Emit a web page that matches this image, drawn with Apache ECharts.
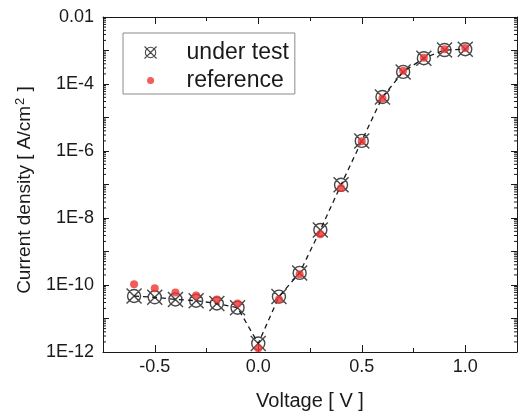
<!DOCTYPE html>
<html>
<head>
<meta charset="utf-8">
<script src="https://cdn.jsdelivr.net/npm/echarts@6/dist/echarts.min.js"></script>
<style>
  html, body { margin: 0; padding: 0; background: #fff; }
  #chart { width: 519px; height: 412px; }
</style>
</head>
<body>
<div id="chart"></div>
<script>
// bias voltage [V]
const voltage = [-0.6, -0.5, -0.4, -0.3, -0.2, -0.1, 0.0, 0.1, 0.2, 0.3, 0.4, 0.5, 0.6, 0.7, 0.8, 0.9, 1.0];
// current density [A/cm2]
const underTest = [4.7e-11, 4.3e-11, 3.7e-11, 3.4e-11, 2.8e-11, 2.1e-11, 1.8e-12, 4.5e-11, 2.3e-10, 4.4e-9, 9.8e-8, 2.0e-6, 4.1e-5, 2.3e-4, 5.9e-4, 1.03e-3, 1.09e-3];
const reference = [1.05e-10, 8.0e-11, 6.0e-11, 4.9e-11, 3.7e-11, 2.8e-11, 1.3e-12, 3.7e-11, 2.1e-10, 3.3e-9, 7.9e-8, 1.95e-6, 3.7e-5, 2.5e-4, 6.1e-4, 1.09e-3, 1.18e-3];

// axis labels
const yTickLabels = { '-12': '1E-12', '-10': '1E-10', '-8': '1E-8', '-6': '1E-6', '-4': '1E-4', '-2': '0.01' };
const X_MIN = -0.75, X_MAX = 1.25;
const Y_MIN = 1e-12, Y_MAX = 1e-2;

const FONT = 'Liberation Sans, Arial, sans-serif';
const INK = '#1a1a1a';

// ⊗ marker : circle + cross
const crossCircle = 'path://M0 0L15 15M15 0L0 15M14 7.5A6.5 6.5 0 1 1 1 7.5A6.5 6.5 0 1 1 14 7.5Z';
// small dot, padded so the legend keeps it small
const dotIcon = 'path://M0 0M12 12M2.5 6A3.5 3.5 0 1 1 9.5 6A3.5 3.5 0 1 1 2.5 6Z';

const pairs = (ys) => voltage.map((v, i) => [v, ys[i]]);

// log minor ticks (2..9 per decade)
const minorY = [];
for (let e = -12; e < -2; e++) {
  for (let k = 2; k <= 9; k++) minorY.push([X_MIN, k * Math.pow(10, e)]);
}

const xBase = {
  type: 'value', min: X_MIN, max: X_MAX, gridIndex: 0,
  axisLine: { show: true, onZero: false, lineStyle: { color: INK, width: 1 } },
  splitLine: { show: false }
};
const yBase = {
  type: 'log', logBase: 10, min: Y_MIN, max: Y_MAX, interval: 1, splitNumber: 10,
  axisLine: { show: true, onZero: false, lineStyle: { color: INK, width: 1 } },
  splitLine: { show: false }
};

const chart = echarts.init(document.getElementById('chart'));
chart.setOption({
  animation: false,
  grid: { left: 103, right: 2, top: 17, bottom: 60, containLabel: false, outerBoundsMode: 'none' },
  legend: {
    data: [
      { name: 'under test', itemStyle: { borderWidth: 1.1 } },
      { name: 'reference', icon: dotIcon }
    ],
    orient: 'vertical', left: 123, top: 33,
    padding: [8, 6, 2, 21],
    itemWidth: 46, itemHeight: 12, itemGap: 5,
    borderColor: '#8a8a8a', borderWidth: 1,
    textStyle: { fontSize: 23, lineHeight: 22, color: INK, fontFamily: FONT, padding: [0, 0, 0, 8] }
  },
  xAxis: [
    Object.assign({}, xBase, {
      position: 'bottom',
      name: 'Voltage [ V ]', nameLocation: 'middle', nameGap: 39,
      nameTextStyle: { fontSize: 20, color: INK, fontFamily: FONT },
      axisTick: { show: true, inside: true, length: 7, lineStyle: { color: INK } },
      axisLabel: {
        fontSize: 18, color: INK, fontFamily: FONT, margin: 6,
        formatter: (v) => Math.abs(v * 2 - Math.round(v * 2)) < 1e-6 ? v.toFixed(1) : ''
      }
    }),
    Object.assign({}, xBase, {
      position: 'bottom', interval: 0.25,
      axisLine: { show: false },
      axisTick: { show: true, inside: true, length: 4, lineStyle: { color: INK } },
      axisLabel: { show: false }
    }),
    Object.assign({}, xBase, {
      position: 'top',
      axisTick: { show: true, inside: true, length: 7, lineStyle: { color: INK } },
      axisLabel: { show: false }
    }),
    Object.assign({}, xBase, {
      position: 'top', interval: 0.25,
      axisLine: { show: false },
      axisTick: { show: true, inside: true, length: 4, lineStyle: { color: INK } },
      axisLabel: { show: false }
    })
  ],
  yAxis: [
    Object.assign({}, yBase, {
      position: 'left',
      name: '{t|Current density [ A/cm}{s|2}{t| ]}{g|}', nameLocation: 'middle', nameGap: 67,
      nameTextStyle: {
        color: INK, fontFamily: FONT,
        rich: {
          t: { fontSize: 19, lineHeight: 22, color: INK, fontFamily: FONT },
          s: { fontSize: 13, lineHeight: 22, verticalAlign: 'top', color: INK, fontFamily: FONT, padding: [0, 1, 0, 1] },
          g: { width: 11, lineHeight: 22 }
        }
      },
      axisTick: { show: true, inside: true, length: 6, lineStyle: { color: INK } },
      axisLabel: {
        fontSize: 18, color: INK, fontFamily: FONT, margin: 9,
        formatter: (v) => yTickLabels[String(Math.round(Math.log10(v)))] || ''
      }
    }),
    Object.assign({}, yBase, {
      position: 'right',
      axisTick: { show: true, inside: true, length: 6, lineStyle: { color: INK } },
      axisLabel: { show: false }
    })
  ],
  series: [
    {
      name: 'trend', type: 'line', data: pairs(underTest),
      symbol: 'none', silent: true, z: 1,
      lineStyle: { color: INK, width: 1.3, type: [5, 4] }
    },
    {
      name: 'under test', type: 'scatter', data: pairs(underTest),
      symbol: crossCircle, symbolSize: 15, z: 3,
      itemStyle: { color: 'rgba(0,0,0,0)', borderColor: INK, borderWidth: 1.4 }
    },
    {
      name: 'reference', type: 'scatter', data: pairs(reference),
      symbol: 'circle', symbolSize: 8, z: 4,
      itemStyle: { color: '#ee3333' }
    },
    {
      name: 'minor', type: 'custom', data: minorY, silent: true, z: 2,
      renderItem: (params, api) => {
        const v = api.value(1);
        const l = api.coord([X_MIN, v]);
        const r = api.coord([X_MAX, v]);
        const style = { stroke: INK, lineWidth: 1 };
        return {
          type: 'group',
          children: [
            { type: 'line', shape: { x1: l[0], y1: l[1], x2: l[0] + 3, y2: l[1] }, style },
            { type: 'line', shape: { x1: r[0] - 3, y1: r[1], x2: r[0], y2: r[1] }, style }
          ]
        };
      }
    }
  ]
});
</script>
</body>
</html>
